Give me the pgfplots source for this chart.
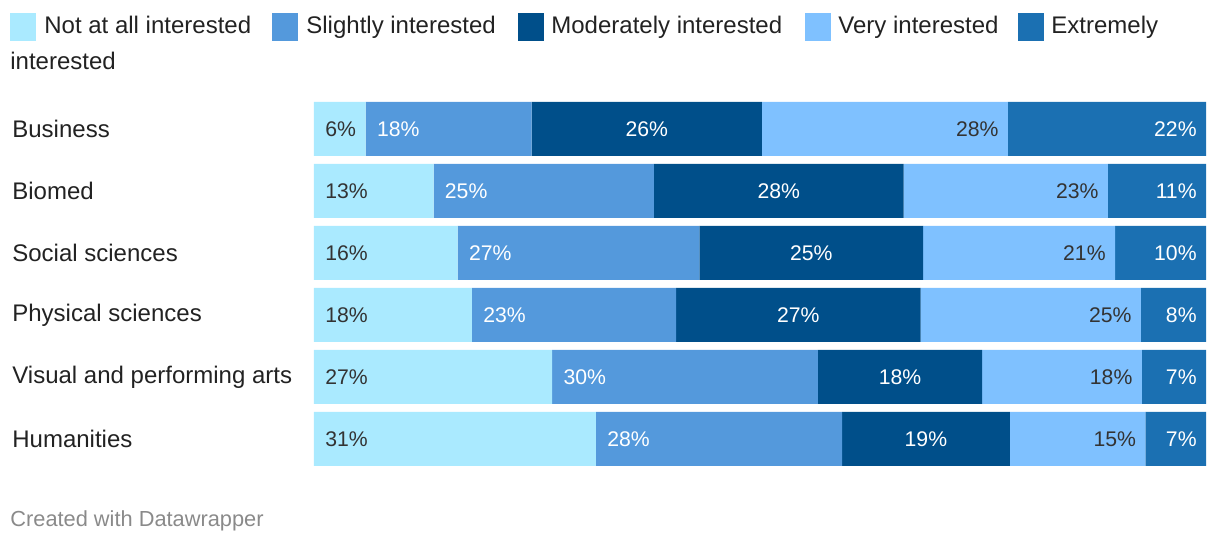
\documentclass[border=0pt]{standalone}
\usepackage{pgfplots}
\pgfplotsset{compat=1.18}
\usepackage{pgfplotstable}
\usepackage{fontspec}
\setmainfont{Liberation Sans}
\definecolor{cA}{HTML}{AAEAFF}
\definecolor{cB}{HTML}{5499DC}
\definecolor{cC}{HTML}{004F8A}
\definecolor{cD}{HTML}{7FC1FF}
\definecolor{cE}{HTML}{1B70B2}
\definecolor{cT}{HTML}{333333}
\definecolor{cL}{HTML}{222222}
\definecolor{cF}{HTML}{8A8A8A}
\pgfplotstableread{
y a    b    c    d    e    la lb lc ld le
5 5.8  18.6 25.8 27.6 22.2 6  18 26 28 22
4 13.4 24.7 28.0 22.9 11.0 13 25 28 23 11
3 16.1 27.1 25.1 21.5 10.2 16 27 25 21 10
2 17.7 22.9 27.4 24.7 7.3  18 23 27 25 8
1 26.7 29.8 18.4 17.9 7.2  27 30 18 18 7
0 31.6 27.6 18.8 15.2 6.8  31 28 19 15 7
}\data
\pgfplotsset{
  common/.style={
    at={(0,0)}, anchor=south west,
    scale only axis, width=446pt, height=186pt,
    xmin=0, xmax=100, ymin=-0.5, ymax=5.5,
    clip=false,
  },
  lab/.style={only marks, mark=none,
    nodes near coords={\pgfplotspointmeta\%},
    point meta=explicit symbolic,
    nodes near coords style={inner sep=0pt, font=\fontsize{10.6}{12}\selectfont, #1}},
}
\begin{document}
\begin{tikzpicture}
\useasboundingbox (-157pt,-37pt) rectangle (453pt,235pt);
\begin{axis}[
  common,
  xbar stacked, bar width=27pt,
  axis x line=none,
  axis y line*=left,
  y axis line style={draw=none},
  ytick={0,1,2,3,4,5},
  yticklabels={Humanities,Visual and performing arts,Physical sciences,Social sciences,Biomed,Business},
  ytick style={draw=none},
  yticklabel style={anchor=west, xshift=-151pt, inner sep=0pt, text=cL, font=\fontsize{12}{14}\selectfont},
]
\addplot[fill=cA, draw=none] table[x=a, y=y] {\data};
\addplot[fill=cB, draw=none] table[x=b, y=y] {\data};
\addplot[fill=cC, draw=none] table[x=c, y=y] {\data};
\addplot[fill=cD, draw=none] table[x=d, y=y] {\data};
\addplot[fill=cE, draw=none] table[x=e, y=y] {\data};
\end{axis}
\begin{axis}[common, hide axis]
\addplot[lab={anchor=west, xshift=5.5pt, text=cT}]
  table[x expr=0, y=y, meta=la] {\data};
\addplot[lab={anchor=west, xshift=5.5pt, text=white}]
  table[x expr=\thisrow{a}, y=y, meta=lb] {\data};
\addplot[lab={anchor=center, text=white}]
  table[x expr=\thisrow{a}+\thisrow{b}+0.5*\thisrow{c}, y=y, meta=lc] {\data};
\addplot[lab={anchor=east, xshift=-4.5pt, text=cT}]
  table[x expr=\thisrow{a}+\thisrow{b}+\thisrow{c}+\thisrow{d}, y=y, meta=ld] {\data};
\addplot[lab={anchor=east, xshift=-4.5pt, text=white}]
  table[x expr=\thisrow{a}+\thisrow{b}+\thisrow{c}+\thisrow{d}+\thisrow{e}, y=y, meta=le] {\data};
\end{axis}
\begin{scope}[every node/.style={anchor=base west, inner sep=0pt, text=cL, font=\fontsize{12}{14}\selectfont}]
\fill[cA] (-152pt,214.5pt) rectangle ++(13pt,14pt);
\node at (-135pt,218pt) {Not at all interested};
\fill[cB] (-21pt,214.5pt) rectangle ++(13pt,14pt);
\node at (-4pt,218pt) {Slightly interested};
\fill[cC] (102pt,214.5pt) rectangle ++(13pt,14pt);
\node at (118.5pt,218pt) {Moderately interested};
\fill[cD] (245.5pt,214.5pt) rectangle ++(13pt,14pt);
\node at (262pt,218pt) {Very interested};
\fill[cE] (352pt,214.5pt) rectangle ++(13pt,14pt);
\node at (368.5pt,218pt) {Extremely};
\node at (-152pt,200pt) {interested};
\end{scope}
\node[anchor=base west, inner sep=0pt, text=cF, font=\fontsize{10.9}{13}\selectfont] at (-152pt,-28.5pt) {Created with Datawrapper};
\end{tikzpicture}
\end{document}
